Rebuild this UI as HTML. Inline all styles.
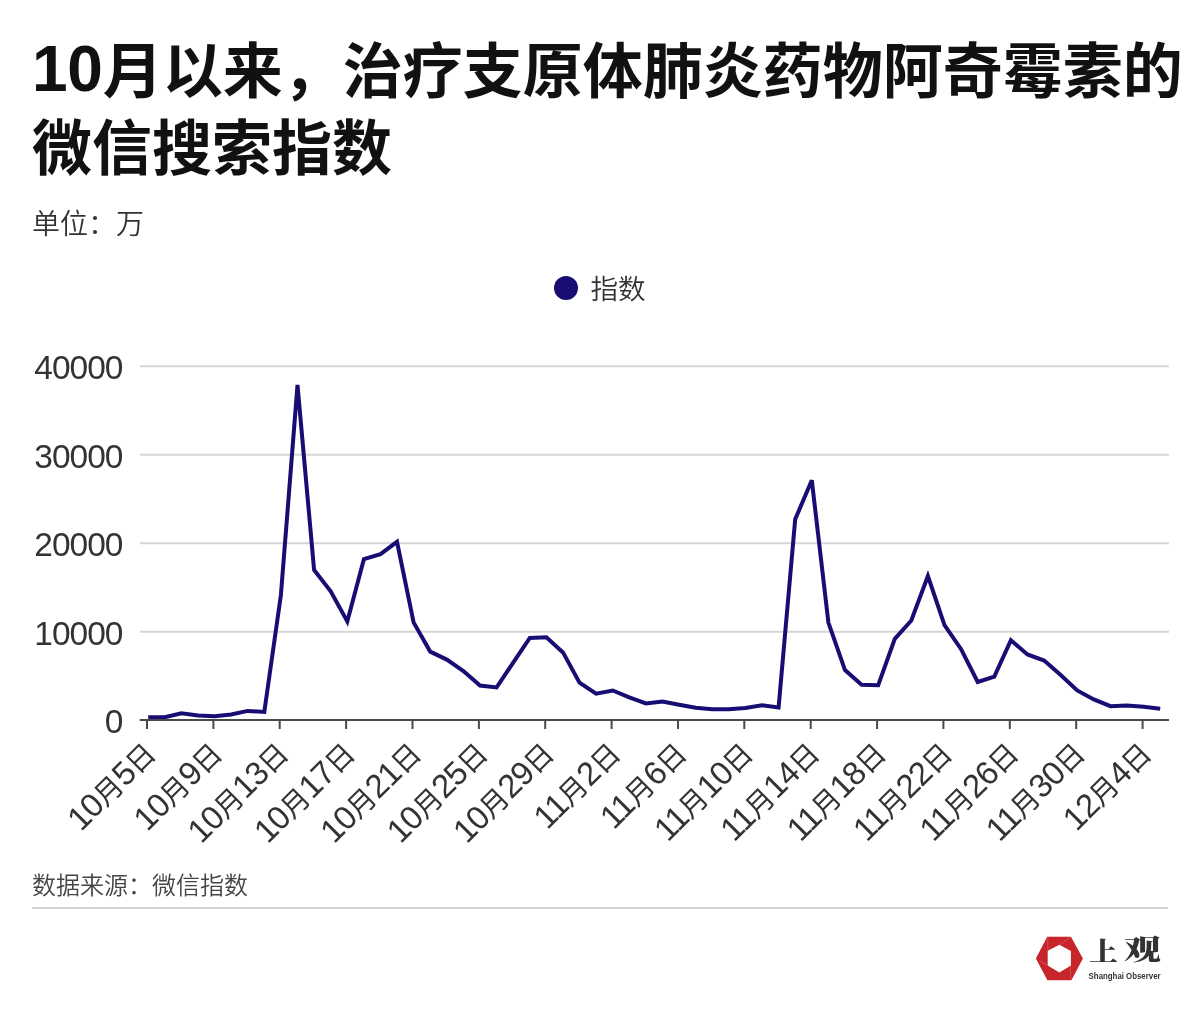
<!DOCTYPE html>
<html lang="zh-CN">
<head>
<meta charset="utf-8">
<title>阿奇霉素的微信搜索指数</title>
<style>
html,body{margin:0;padding:0;background:#fff;}
body{width:1200px;height:1020px;position:relative;overflow:hidden;font-family:"Liberation Sans","Noto Sans CJK SC",sans-serif;color:#333;}
.title{position:absolute;left:32px;top:34px;margin:0;font-size:60px;line-height:77px;font-weight:700;color:#111;white-space:nowrap;letter-spacing:0;}
.title .n{font-size:64px;letter-spacing:-0.25px;position:relative;top:-1.8px;line-height:0;}
.sub{position:absolute;left:32px;top:205.5px;margin:0;font-size:28px;line-height:38px;font-weight:350;color:#333;white-space:nowrap;}
.chart{position:absolute;left:0;top:0;}
.chart text{font-family:"Liberation Sans","Noto Sans CJK SC",sans-serif;fill:#333;}
.yl{font-size:33.5px;letter-spacing:-1px;}
.xl{font-size:28px;}
.xl .d{font-size:33px;letter-spacing:-0.9px;}
.lg{font-size:27.6px;font-weight:350;}
.src{position:absolute;left:32px;top:869.2px;margin:0;font-size:24px;line-height:34px;font-weight:350;color:#444;white-space:nowrap;}
.rule{position:absolute;left:32px;top:907px;width:1136px;height:1.5px;background:#d4d4d4;}
.logo{position:absolute;left:1030px;top:925px;width:170px;height:70px;}
</style>
</head>
<body>
<h1 class="title"><span class="n">10</span>月以来，治疗支原体肺炎药物阿奇霉素的<br>微信搜索指数</h1>
<p class="sub">单位：万</p>
<svg class="chart" width="1200" height="1020" viewBox="0 0 1200 1020">
<line x1="140" x2="1169" y1="366.2" y2="366.2" stroke="#d6d6d6" stroke-width="2"/>
<line x1="140" x2="1169" y1="454.7" y2="454.7" stroke="#d6d6d6" stroke-width="2"/>
<line x1="140" x2="1169" y1="543.2" y2="543.2" stroke="#d6d6d6" stroke-width="2"/>
<line x1="140" x2="1169" y1="631.7" y2="631.7" stroke="#d6d6d6" stroke-width="2"/>
<text class="yl" x="122.5" y="379.0" text-anchor="end">40000</text>
<text class="yl" x="122.5" y="467.5" text-anchor="end">30000</text>
<text class="yl" x="122.5" y="556.0" text-anchor="end">20000</text>
<text class="yl" x="122.5" y="644.5" text-anchor="end">10000</text>
<text class="yl" x="122.5" y="733.0" text-anchor="end">0</text>
<text class="xl" transform="translate(157.6,755.5) rotate(-45)" text-anchor="end"><tspan class="d">10</tspan>月<tspan class="d">5</tspan>日</text>
<text class="xl" transform="translate(224.0,755.5) rotate(-45)" text-anchor="end"><tspan class="d">10</tspan>月<tspan class="d">9</tspan>日</text>
<text class="xl" transform="translate(290.3,755.5) rotate(-45)" text-anchor="end"><tspan class="d">10</tspan>月<tspan class="d">13</tspan>日</text>
<text class="xl" transform="translate(356.7,755.5) rotate(-45)" text-anchor="end"><tspan class="d">10</tspan>月<tspan class="d">17</tspan>日</text>
<text class="xl" transform="translate(423.1,755.5) rotate(-45)" text-anchor="end"><tspan class="d">10</tspan>月<tspan class="d">21</tspan>日</text>
<text class="xl" transform="translate(489.5,755.5) rotate(-45)" text-anchor="end"><tspan class="d">10</tspan>月<tspan class="d">25</tspan>日</text>
<text class="xl" transform="translate(555.8,755.5) rotate(-45)" text-anchor="end"><tspan class="d">10</tspan>月<tspan class="d">29</tspan>日</text>
<text class="xl" transform="translate(622.2,755.5) rotate(-45)" text-anchor="end"><tspan class="d">11</tspan>月<tspan class="d">2</tspan>日</text>
<text class="xl" transform="translate(688.6,755.5) rotate(-45)" text-anchor="end"><tspan class="d">11</tspan>月<tspan class="d">6</tspan>日</text>
<text class="xl" transform="translate(754.9,755.5) rotate(-45)" text-anchor="end"><tspan class="d">11</tspan>月<tspan class="d">10</tspan>日</text>
<text class="xl" transform="translate(821.3,755.5) rotate(-45)" text-anchor="end"><tspan class="d">11</tspan>月<tspan class="d">14</tspan>日</text>
<text class="xl" transform="translate(887.7,755.5) rotate(-45)" text-anchor="end"><tspan class="d">11</tspan>月<tspan class="d">18</tspan>日</text>
<text class="xl" transform="translate(954.0,755.5) rotate(-45)" text-anchor="end"><tspan class="d">11</tspan>月<tspan class="d">22</tspan>日</text>
<text class="xl" transform="translate(1020.4,755.5) rotate(-45)" text-anchor="end"><tspan class="d">11</tspan>月<tspan class="d">26</tspan>日</text>
<text class="xl" transform="translate(1086.8,755.5) rotate(-45)" text-anchor="end"><tspan class="d">11</tspan>月<tspan class="d">30</tspan>日</text>
<text class="xl" transform="translate(1153.2,755.5) rotate(-45)" text-anchor="end"><tspan class="d">12</tspan>月<tspan class="d">4</tspan>日</text>
<polyline points="148.2,717.3 164.8,717.3 181.4,713.3 198.0,715.6 214.6,716.3 231.1,714.4 247.7,710.9 264.3,712.0 280.9,595.0 297.5,385.0 314.1,570.0 330.7,591.3 347.3,621.5 363.9,559.2 380.5,554.2 397.0,541.8 413.6,622.4 430.2,651.6 446.8,659.6 463.4,671.0 480.0,685.6 496.6,687.4 513.2,662.6 529.8,638.0 546.4,637.2 563.0,652.4 579.5,682.6 596.1,693.6 612.7,690.5 629.3,697.4 645.9,703.4 662.5,701.6 679.1,704.8 695.7,707.8 712.3,709.2 728.8,709.2 745.4,708.0 762.0,705.2 778.6,707.4 795.2,519.3 811.8,480.3 828.4,622.6 845.0,670.1 861.6,684.7 878.2,685.2 894.8,638.8 911.3,620.5 927.9,576.0 944.5,625.2 961.1,649.2 977.7,682.0 994.3,676.6 1010.9,640.2 1027.5,654.4 1044.1,660.6 1060.7,675.0 1077.2,690.4 1093.8,699.4 1110.4,706.2 1127.0,705.4 1143.6,706.8 1160.2,708.8" fill="none" stroke="#170d73" stroke-width="4" stroke-linejoin="miter" stroke-miterlimit="3.4"/>
<line x1="139.7" x2="1169" y1="720" y2="720" stroke="#4a4a4a" stroke-width="2"/>
<line x1="147.0" x2="147.0" y1="720" y2="729" stroke="#4a4a4a" stroke-width="2"/>
<line x1="213.4" x2="213.4" y1="720" y2="729" stroke="#4a4a4a" stroke-width="2"/>
<line x1="279.7" x2="279.7" y1="720" y2="729" stroke="#4a4a4a" stroke-width="2"/>
<line x1="346.1" x2="346.1" y1="720" y2="729" stroke="#4a4a4a" stroke-width="2"/>
<line x1="412.5" x2="412.5" y1="720" y2="729" stroke="#4a4a4a" stroke-width="2"/>
<line x1="478.9" x2="478.9" y1="720" y2="729" stroke="#4a4a4a" stroke-width="2"/>
<line x1="545.2" x2="545.2" y1="720" y2="729" stroke="#4a4a4a" stroke-width="2"/>
<line x1="611.6" x2="611.6" y1="720" y2="729" stroke="#4a4a4a" stroke-width="2"/>
<line x1="678.0" x2="678.0" y1="720" y2="729" stroke="#4a4a4a" stroke-width="2"/>
<line x1="744.3" x2="744.3" y1="720" y2="729" stroke="#4a4a4a" stroke-width="2"/>
<line x1="810.7" x2="810.7" y1="720" y2="729" stroke="#4a4a4a" stroke-width="2"/>
<line x1="877.1" x2="877.1" y1="720" y2="729" stroke="#4a4a4a" stroke-width="2"/>
<line x1="943.4" x2="943.4" y1="720" y2="729" stroke="#4a4a4a" stroke-width="2"/>
<line x1="1009.8" x2="1009.8" y1="720" y2="729" stroke="#4a4a4a" stroke-width="2"/>
<line x1="1076.2" x2="1076.2" y1="720" y2="729" stroke="#4a4a4a" stroke-width="2"/>
<line x1="1142.6" x2="1142.6" y1="720" y2="729" stroke="#4a4a4a" stroke-width="2"/>
<circle cx="566" cy="288" r="12" fill="#170d73"/>
<text class="lg" x="590.5" y="298.8">指数</text>
</svg>
<p class="src">数据来源：微信指数</p>
<div class="rule"></div>
<svg class="logo" viewBox="1030 925 170 70">
<polygon points="1035.9,958.5 1047.2,936.8 1071,936.8 1082.9,958.5 1071.4,980.2 1047.4,980.2" fill="#c8242c"/>
<polygon points="1059.4,944.7 1070.9,950.9 1070.9,965.5 1059.4,972.4 1047.7,965.4 1047.7,950.7" fill="#fff"/>
<g stroke="#e58a8f" stroke-width="0.5" fill="none" opacity="0.85">
<line x1="1047.8" y1="937.6" x2="1047.9" y2="950.4"/>
<line x1="1059.8" y1="944.4" x2="1070.4" y2="937.4"/>
<line x1="1070.6" y1="966" x2="1070.7" y2="979.6"/>
<line x1="1040" y1="961" x2="1047.3" y2="965.2"/>
</g>
<text transform="translate(1089,961.3) scale(1,0.886)" font-family="'Liberation Serif','Noto Serif CJK SC',serif" font-weight="900" font-size="29" fill="#333">上</text>
<text transform="translate(1123.7,960.1) scale(1.13,0.86)" font-family="'Liberation Serif','Noto Serif CJK SC',serif" font-weight="900" font-size="33" fill="#333">观</text>
<text x="1088.6" y="978.6" font-family="'Liberation Sans',sans-serif" font-weight="700" font-size="9.3" textLength="72" lengthAdjust="spacingAndGlyphs" fill="#333">Shanghai Observer</text>
</svg>
</body>
</html>
